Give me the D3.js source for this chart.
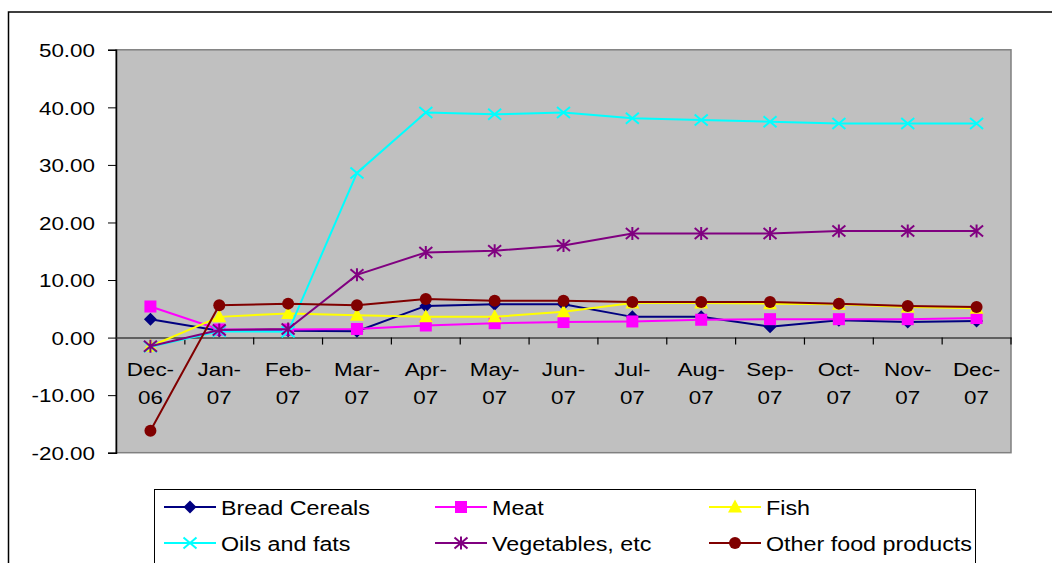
<!DOCTYPE html>
<html><head><meta charset="utf-8">
<script src="https://cdn.jsdelivr.net/npm/d3@7"></script>
<style>body{margin:0;background:#fff}svg{display:block}</style>
</head><body>
<svg id="c" width="1052" height="563"></svg>
<script>
const categories = ["Dec-06","Jan-07","Feb-07","Mar-07","Apr-07","May-07","Jun-07","Jul-07","Aug-07","Sep-07","Oct-07","Nov-07","Dec-07"];
const yTicks = [-20,-10,0,10,20,30,40,50];
const seriesNames = ["Bread Cereals","Meat","Fish","Oils and fats","Vegetables, etc","Other food products"];
const breadCereals = [3.2,1.2,1.2,1.1,5.5,5.8,5.8,3.6,3.6,1.9,3.0,2.7,2.9];
const meat = [5.4,1.4,1.4,1.5,2.1,2.5,2.7,2.8,3.1,3.2,3.2,3.2,3.4];
const fish = [-1.5,3.6,4.2,3.9,3.6,3.6,4.5,6.0,6.0,5.9,5.8,5.3,5.1];
const oilsFats = [-1.6,1.1,1.0,28.6,39.1,38.8,39.1,38.1,37.8,37.5,37.2,37.2,37.2];
const vegetables = [-1.5,1.3,1.5,10.9,14.8,15.1,16.0,18.1,18.1,18.1,18.5,18.5,18.5];
const otherFood = [-16.2,5.6,5.9,5.6,6.7,6.4,6.4,6.2,6.2,6.2,5.9,5.5,5.3];

const seriesValues = [breadCereals, meat, fish, oilsFats, vegetables, otherFood];
const colors = ["#000080","#FF00FF","#FFFF00","#00FFFF","#800080","#800000"];
const markers = ["diamond","square","triangle","x","asterisk","circle"];

const svg = d3.select("#c");
const L=116, R=1011, T=49.8, B=452.7;
const x = d3.scaleBand().domain(categories).range([L,R]).padding(0);
const y = d3.scaleLinear().domain([-20,50]).range([B,T]);
const cx = d => x(d)+x.bandwidth()/2;
const FONT = "'Liberation Sans', Arial, sans-serif";
const fmt = d => d3.format(".2f")(d).replace("\u2212","-");

// outer border
svg.append("rect").attr("x",8.5).attr("y",12).attr("width",1100).attr("height",600)
  .attr("fill","none").attr("stroke","#000").attr("stroke-width",1.5);

// plot area
svg.append("rect").attr("x",L).attr("y",T).attr("width",R-L).attr("height",B-T)
  .attr("fill","#C0C0C0").attr("stroke","#808080").attr("stroke-width",1.5);

// y axis
const yAxis = d3.axisLeft(y).tickValues(yTicks).tickSize(8).tickFormat(fmt);
const gy = svg.append("g").attr("transform",`translate(${L},0)`).call(yAxis);
gy.select(".domain").attr("stroke","#000").attr("stroke-width",1.5);
gy.selectAll(".tick line").attr("stroke","#000");
gy.selectAll(".tick text").remove();
gy.selectAll(".tick").each(function(d){
  d3.select(this).append("text")
    .attr("transform","translate(-21,0) scale(1.18,1)")
    .attr("text-anchor","end").attr("dy","0.36em")
    .attr("fill","#000").attr("font-family",FONT).attr("font-size",19)
    .text(fmt(d));
});

// x axis at zero
const xAxis = d3.axisBottom(x).tickSize(0).tickFormat("");
const gx = svg.append("g").attr("transform",`translate(0,${y(0)})`).call(xAxis);
gx.select(".domain").attr("stroke","#404040").attr("stroke-width",1.5);
const bounds = categories.slice(1).map(c=>x(c)).concat([R]);
gx.selectAll("line.bt").data(bounds).enter().append("line").attr("class","bt")
  .attr("x1",d=>d).attr("x2",d=>d).attr("y1",0).attr("y2",7).attr("stroke","#000").attr("stroke-width",1.2);
categories.forEach(c=>{
  const parts = c.split("-");
  const t = svg.append("g").attr("transform",`translate(${cx(c)},0)`);
  t.append("text").attr("transform",`translate(0,376) scale(1.18,1)`).attr("text-anchor","middle")
    .attr("font-family",FONT).attr("font-size",19).attr("fill","#000").text(parts[0]+"-");
  t.append("text").attr("transform",`translate(0,404) scale(1.18,1)`).attr("text-anchor","middle")
    .attr("font-family",FONT).attr("font-size",19).attr("fill","#000").text(parts[1]);
});

function drawMarker(g, type, color, px, py){
  const s=6.5;
  if(type==="diamond"){
    g.append("path").attr("d",`M${px},${py-s} L${px+s},${py} L${px},${py+s} L${px-s},${py} Z`).attr("fill",color);
  } else if(type==="square"){
    g.append("rect").attr("x",px-6).attr("y",py-6).attr("width",12).attr("height",12).attr("fill",color);
  } else if(type==="triangle"){
    g.append("path").attr("d",`M${px},${py-7.5} L${px+7},${py+5.5} L${px-7},${py+5.5} Z`).attr("fill",color);
  } else if(type==="circle"){
    g.append("circle").attr("cx",px).attr("cy",py).attr("r",6).attr("fill",color);
  } else if(type==="x"){
    g.append("path").attr("d",`M${px-6.5},${py-5.5} L${px+6.5},${py+5.5} M${px-6.5},${py+5.5} L${px+6.5},${py-5.5}`)
      .attr("stroke",color).attr("stroke-width",2).attr("fill","none");
  } else if(type==="asterisk"){
    g.append("path").attr("d",`M${px-6.5},${py-5.5} L${px+6.5},${py+5.5} M${px-6.5},${py+5.5} L${px+6.5},${py-5.5} M${px},${py-6.5} L${px},${py+6.5}`)
      .attr("stroke",color).attr("stroke-width",2).attr("fill","none");
  }
}

const line = d3.line().x((d,i)=>cx(categories[i])).y(d=>y(d));
seriesValues.forEach((vals,si)=>{
  const g = svg.append("g");
  g.append("path").datum(vals).attr("d",line).attr("fill","none")
    .attr("stroke",colors[si]).attr("stroke-width",2);
  vals.forEach((v,i)=>drawMarker(g, markers[si], colors[si], cx(categories[i]), y(v)));
});

// legend
const lg = svg.append("g");
lg.append("rect").attr("x",154.5).attr("y",489.5).attr("width",821).attr("height",80)
  .attr("fill","#fff").attr("stroke","#000").attr("stroke-width",1);
const colX = [164, 435, 709];
const rowY = [507, 543];
seriesNames.forEach((n,i)=>{
  const lx = colX[i%3], ly = rowY[Math.floor(i/3)];
  lg.append("line").attr("x1",lx).attr("x2",lx+52).attr("y1",ly).attr("y2",ly)
    .attr("stroke",colors[i]).attr("stroke-width",2);
  drawMarker(lg, markers[i], colors[i], lx+26, ly);
  lg.append("text").attr("transform",`translate(${lx+57},${ly}) scale(1.11,1)`).attr("dy","0.36em")
    .attr("font-family",FONT).attr("font-size",21).attr("fill","#000").text(n);
});
</script>
</body></html>
